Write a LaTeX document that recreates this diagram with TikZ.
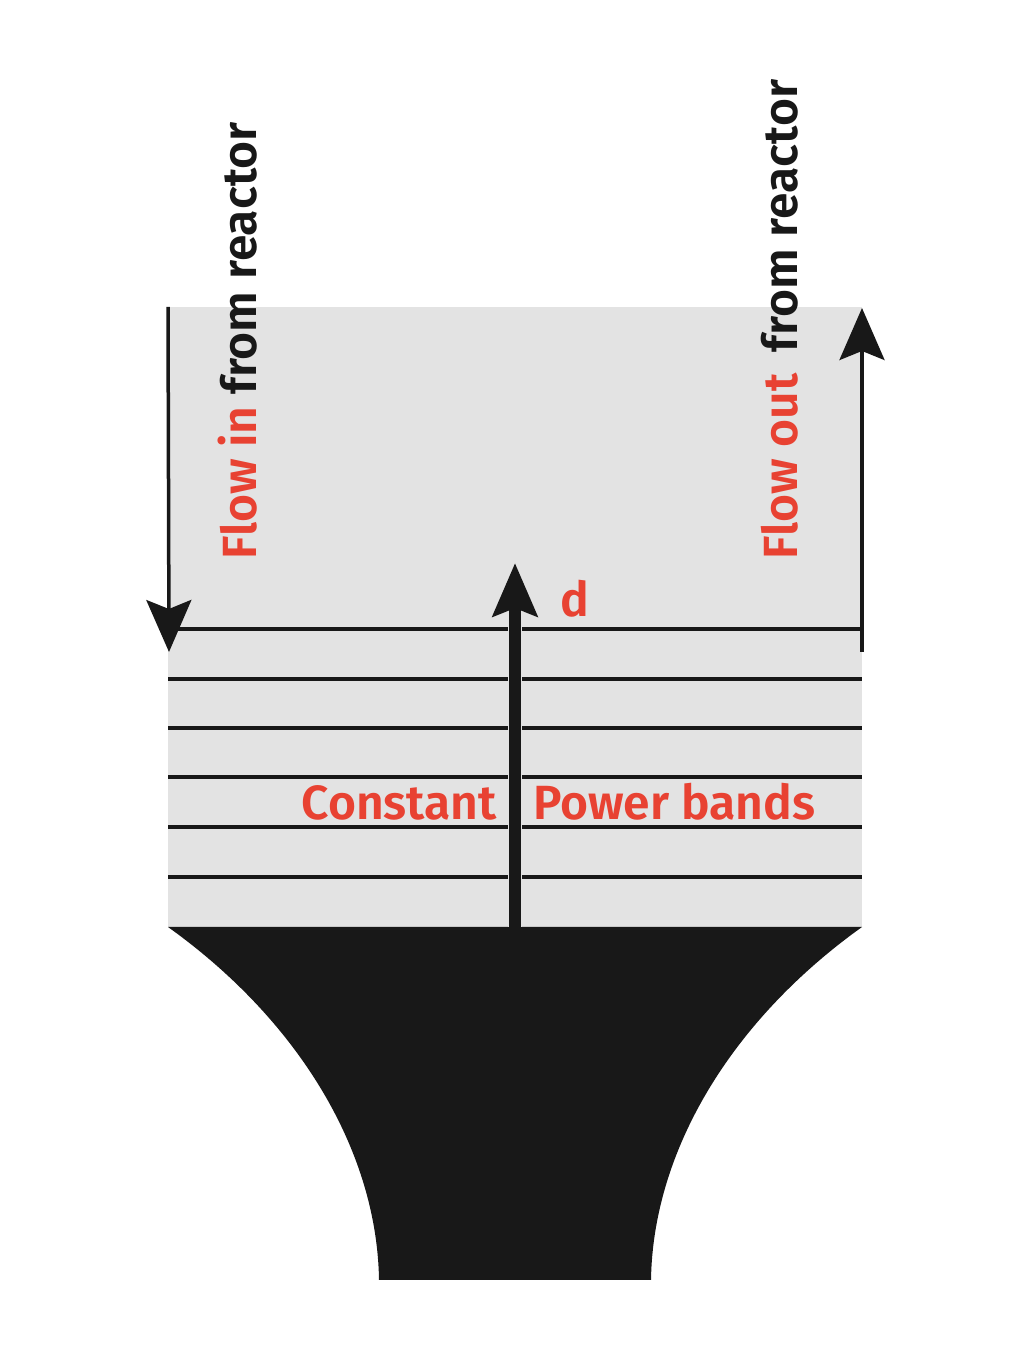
\documentclass[tikz,border=0pt]{standalone}
\usepackage{fontspec}
\setmainfont{Fira Sans}[BoldFont={Fira Sans SemiBold}]
\usetikzlibrary{arrows.meta}
\definecolor{bandgray}{HTML}{E3E3E3}
\definecolor{ink}{HTML}{181818}
\definecolor{lblred}{HTML}{E84232}
\begin{document}
\begin{tikzpicture}[x=1pt,y=1pt,
  band/.style={ink, line width=4pt},
  thinarrow/.style={ink, line width=3.5pt, -{Stealth[length=52pt,width=45pt,inset=9pt]}},
  thickarrow/.style={ink, line width=12pt, -{Stealth[length=53pt,width=44pt,inset=8pt]}},
  lbl/.style={inner sep=0pt, font=\bfseries\fontsize{48}{52}\selectfont},
]
\useasboundingbox (0,0) rectangle (1024,1360);
% grey region
\fill[bandgray] (168,433) rectangle (862,1053);
% coordinates
\coordinate (inTop) at (168,1053);
\coordinate (inEnd) at (169,708);
\coordinate (outStart) at (862,708);
\coordinate (outTop) at (862,1052);
\coordinate (dBase) at (515,433);
\coordinate (dTip) at (515,797);
% bands
\foreach \y/\n in {731/1,681/2,632/3,583/4,533/5,483/6} {
  \coordinate (bl\n) at (168,\y);
  \coordinate (br\n) at (862,\y);
  \draw[band] (bl\n) -- (br\n);
}
% black base
\fill[ink] (168,433) .. controls (298,340) and (377,210) .. (379,80)
  -- (651,80) .. controls (653,210) and (732,340) .. (862,433) -- cycle;
% central arrow with grey halo
\draw[bandgray, line width=14pt] (dBase) -- (515,790);
\draw[thickarrow] (dBase) -- (dTip);
% flow arrows
\draw[thinarrow] (inTop) -- (inEnd);
\draw[thinarrow] (outStart) -- (outTop);
% labels
\node[lbl, rotate=90, anchor=base west] (flowin) at (256,800)
  {\textcolor{lblred}{Flow in} \textcolor{ink}{from reactor}};
\node[lbl, rotate=90, anchor=base west] (flowout) at (797,800)
  {\textcolor{lblred}{Flow out}\hspace{0.45em}\textcolor{ink}{from reactor}};
\node[lbl, text=lblred, anchor=base west] (dlbl) at (560,743) {d};
\node[lbl, text=lblred, anchor=base east] (const) at (497,540) {Constant};
\node[lbl, text=lblred, anchor=base west] (power) at (533,540) {Power bands};
\end{tikzpicture}
\end{document}
